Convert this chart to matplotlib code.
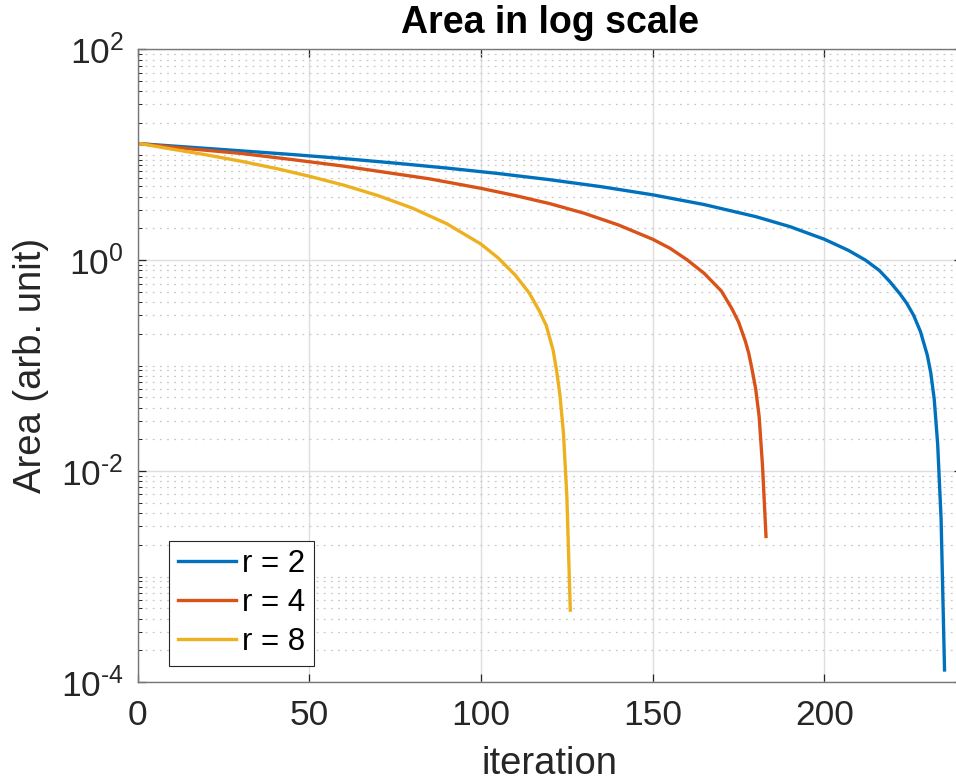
import numpy as np
import matplotlib
matplotlib.use("Agg")
import matplotlib.pyplot as plt
from matplotlib.ticker import LogLocator, NullFormatter, NullLocator

# values
iter_r2 = [1, 15, 30, 45, 60, 75, 90, 105, 120, 135, 150, 165, 180, 190, 200, 207,
           212, 216, 219, 222, 224, 226, 228, 230, 231, 232, 233, 234, 235]
area_r2 = [12.7, 11.8, 10.9, 10.05, 9.2, 8.33, 7.48, 6.64, 5.8, 4.98, 4.17, 3.37, 2.59,
           2.08, 1.58, 1.24, 1.0, 0.8, 0.63, 0.48, 0.39, 0.30, 0.21, 0.125, 0.085,
           0.048, 0.018, 0.0035, 1.3e-4]

iter_r4 = [1, 15, 30, 45, 60, 75, 85, 100, 110, 120, 130, 140, 150, 155, 160, 165,
           170, 173, 175, 177, 178, 179, 180, 181, 182, 183]
area_r4 = [12.7, 11.4, 10.3, 9.0, 7.8, 6.6, 5.91, 4.8, 4.1, 3.44, 2.79, 2.16, 1.58,
           1.3, 1.01, 0.75, 0.51, 0.35, 0.26, 0.17, 0.13, 0.09, 0.06, 0.033, 0.011, 0.0024]

iter_r8 = [1, 10, 20, 30, 40, 50, 60, 70, 80, 90, 100, 105, 110, 114, 117, 119, 121,
           122, 123, 124, 125, 126]
area_r8 = [12.7, 11.3, 9.98, 8.69, 7.45, 6.25, 5.15, 4.1, 3.12, 2.22, 1.42, 1.05, 0.72,
           0.49, 0.33, 0.24, 0.14, 0.09, 0.052, 0.023, 0.0057, 4.8e-4]

labels = ["r = 2", "r = 4", "r = 8"]
colors = ["#0072BD", "#D95319", "#EDB120"]

xticks = [0, 50, 100, 150, 200]
yticks = [1e-4, 1e-2, 1e0, 1e2]
yticklabels = [r"$\mathdefault{10^{\text{-}4}}$", r"$\mathdefault{10^{\text{-}2}}$",
               r"$\mathdefault{10^{0}}$", r"$\mathdefault{10^{2}}$"]

plt.rcParams['font.family'] = ['Liberation Sans', 'DejaVu Sans']
plt.rcParams['mathtext.fontset'] = 'custom'
plt.rcParams['mathtext.rm'] = 'Liberation Sans'
plt.rcParams['axes.unicode_minus'] = False

fig = plt.figure(figsize=(9.56, 7.84), dpi=100)
ax = fig.add_axes([137.7 / 956, 1 - 682 / 784, 824 / 956, 632.7 / 784])

for xs, ys, lab, c in zip([iter_r2, iter_r4, iter_r8], [area_r2, area_r4, area_r8], labels, colors):
    ax.plot(xs, ys, color=c, lw=2.4, label=lab)

ax.set_yscale("log")
ax.set_xlim(0, 240)
ax.set_ylim(1e-4, 1e2)
ax.set_xticks(xticks)
ax.xaxis.set_minor_locator(NullLocator())
ax.set_yticks(yticks)
ax.set_yticklabels(yticklabels)
ax.yaxis.set_minor_locator(LogLocator(base=10, subs=np.arange(1, 10), numticks=100))
ax.yaxis.set_minor_formatter(NullFormatter())

ax.grid(which="major", color="#dedede", lw=1.0, ls="-")
ax.grid(which="minor", axis="y", color="#c8c8c8", lw=0.9, ls=(0, (1.5, 4.2)))
ax.set_axisbelow(True)

ax.tick_params(which="both", direction="in", top=True, right=True, colors="#262626",
               labelsize=25.5)
ax.tick_params(which="major", length=6, width=0.9)
ax.tick_params(which="minor", length=3, width=0.7)
ax.tick_params(axis="x", pad=12)
ax.tick_params(axis="y", pad=10)
for s in ax.spines.values():
    s.set_color("#777777")
    s.set_linewidth(1.0)

ax.set_title("Area in log scale", fontsize=27, fontweight="bold", pad=12)
ax.set_xlabel("iteration", fontsize=27.5, color="#262626", labelpad=10)
ax.set_ylabel("Area (arb. unit)", fontsize=27.5, color="#262626")
ax.yaxis.set_label_coords(-0.108, 0.5)

leg = ax.legend(loc="lower left", bbox_to_anchor=(0.038, 0.026), borderaxespad=0,
                fontsize=22.5, frameon=True, fancybox=False, edgecolor="#262626",
                framealpha=1, handlelength=1.85, handletextpad=0.22,
                labelspacing=0.28, borderpad=0.28)
leg.get_frame().set_linewidth(0.8)

fig.savefig("out.png", dpi=100)
